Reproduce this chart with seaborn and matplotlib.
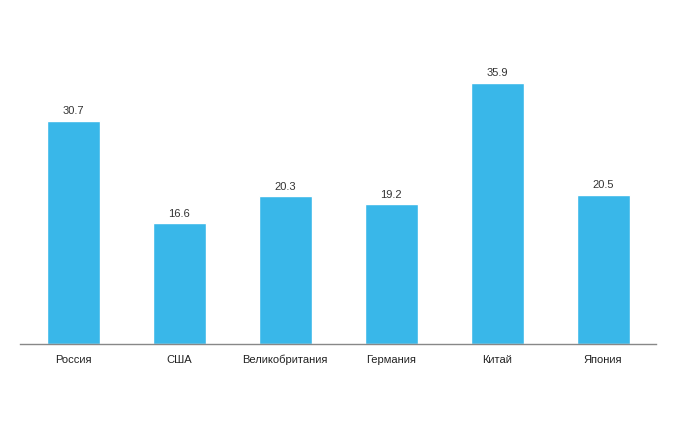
import matplotlib
matplotlib.use('Agg')
import matplotlib.pyplot as plt
import seaborn as sns
import pandas as pd

countries = ['Россия', 'США', 'Великобритания', 'Германия', 'Китай', 'Япония']
values = [30.7, 16.6, 20.3, 19.2, 35.9, 20.5]

df = pd.DataFrame({'country': countries, 'value': values})

sns.set_style('white')
plt.rcParams['font.family'] = ['Liberation Sans', 'DejaVu Sans']

fig = plt.figure(figsize=(6.74, 4.31), dpi=100)
ax = fig.add_axes([20 / 674, 86 / 431, 636 / 674, 327.6 / 431])

sns.barplot(data=df, x='country', y='value', color='#39b7e9', width=0.5,
            saturation=1, ax=ax)

for c in ax.containers:
    ax.bar_label(c, fmt='%.1f', padding=4, fontsize=8, color='#333333')

ax.set_xlim(-0.5, 5.5)
ax.set_ylim(0, 45)
ax.set_xlabel('')
ax.set_ylabel('')
ax.set_yticks([])
for s in ['top', 'right', 'left']:
    ax.spines[s].set_visible(False)
ax.spines['bottom'].set_color('#888888')
ax.spines['bottom'].set_linewidth(1)
ax.tick_params(axis='x', length=0, pad=7, labelsize=8, colors='#222222')

fig.savefig('out.png', dpi=100)
